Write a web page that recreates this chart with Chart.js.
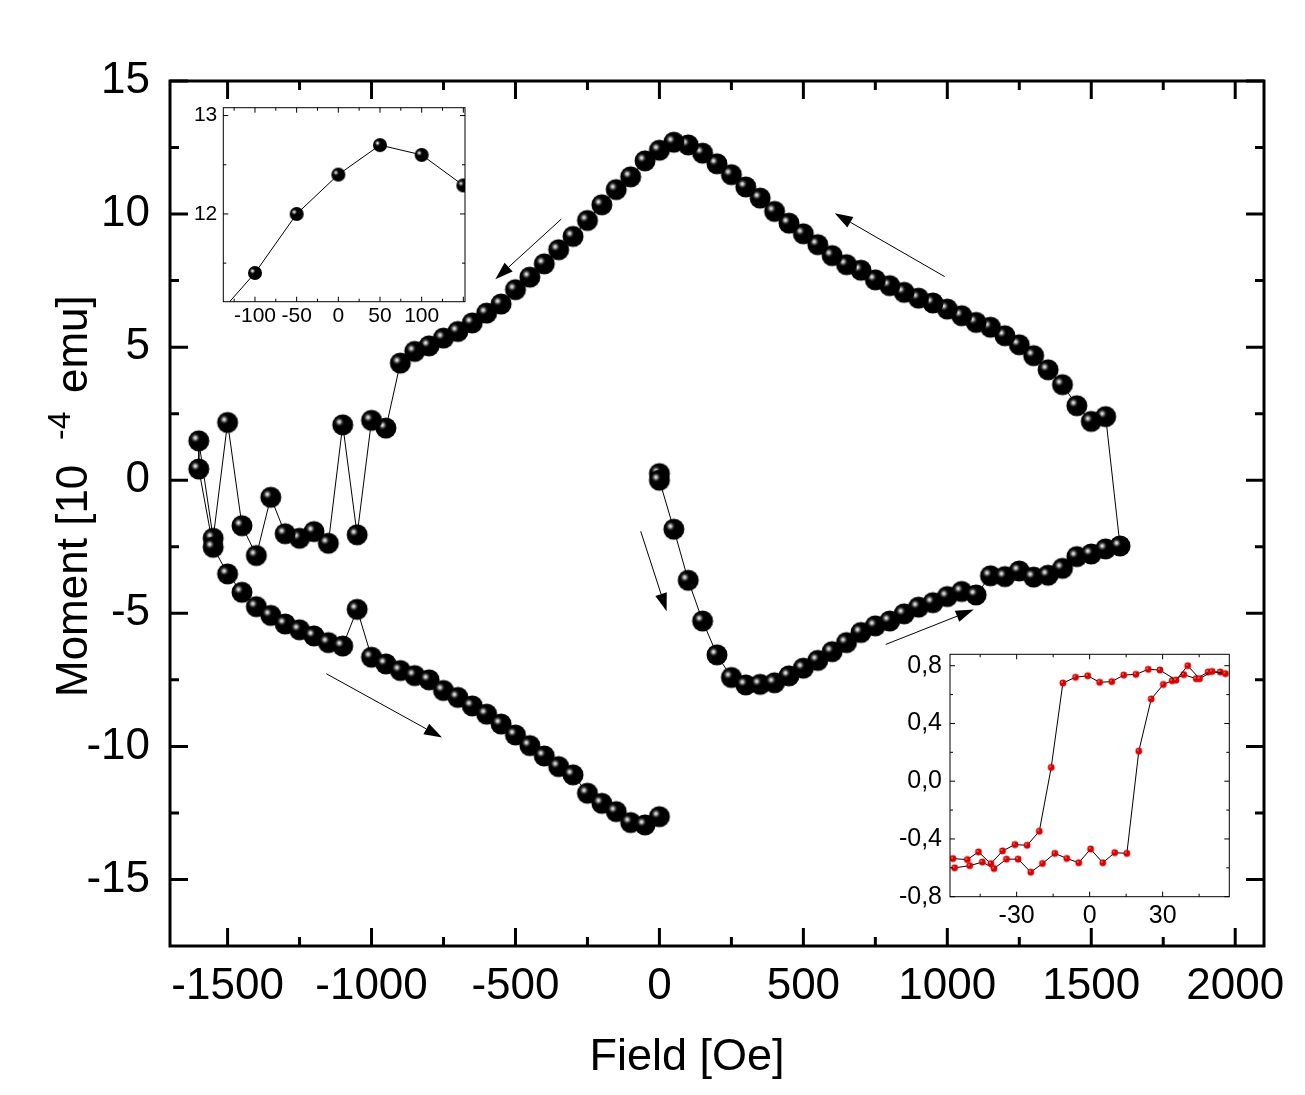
<!DOCTYPE html>
<html>
<head>
<meta charset="utf-8">
<script src="https://cdn.jsdelivr.net/npm/chart.js@4.4.0/dist/chart.umd.min.js"></script>
<style>
  html, body { margin: 0; padding: 0; background: #fff; }
  #wrap { position: relative; width: 1305px; height: 1095px; }
  #wrap canvas { position: absolute; }
</style>
</head>
<body>
<div id="wrap">
  <canvas id="main" width="1305" height="1095" style="left:0;top:0"></canvas>
  <canvas id="insetTop" width="300" height="240" style="left:180px;top:95px"></canvas>
  <canvas id="insetBottom" width="360" height="300" style="left:880px;top:640px"></canvas>
</div>
<script>
// Main loop, in measurement order: virgin curve, upper branch, noisy end, lower branch
const virginField = [0, 0, 50, 100, 150, 200, 250, 300, 350, 400, 450, 500, 550, 600, 650, 700, 750, 800,
  850, 900, 950, 1000, 1050, 1100, 1150, 1200, 1250, 1300, 1350, 1400, 1450, 1500, 1550, 1600];
const virginMoment = [0.25, 0.0, -1.84, -3.76, -5.29, -6.56, -7.41, -7.69, -7.67, -7.61, -7.35, -7.06, -6.77,
  -6.44, -6.10, -5.72, -5.47, -5.29, -5.02, -4.77, -4.60, -4.37, -4.18, -4.31, -3.59, -3.62, -3.41, -3.64,
  -3.57, -3.31, -2.87, -2.77, -2.58, -2.47];

const upperField = [1550, 1500, 1450, 1400, 1350, 1300, 1250, 1200, 1150, 1100, 1050, 1000, 950, 900, 850,
  800, 750, 700, 650, 600, 550, 500, 450, 400, 350, 300, 250, 200, 150, 100, 50, 0, -50, -100, -150, -200,
  -250, -300, -350, -400, -450, -500, -550, -600, -650, -700, -750, -800, -850, -900];
const upperMoment = [2.39, 2.21, 2.80, 3.59, 4.15, 4.68, 5.09, 5.43, 5.75, 5.93, 6.18, 6.43, 6.66, 6.84, 7.06,
  7.31, 7.53, 7.89, 8.10, 8.44, 8.85, 9.26, 9.66, 10.10, 10.60, 11.02, 11.48, 11.89, 12.29, 12.60, 12.70,
  12.40, 12.00, 11.40, 10.92, 10.35, 9.76, 9.16, 8.66, 8.13, 7.63, 7.16, 6.62, 6.28, 5.91, 5.59, 5.34, 5.05,
  4.84, 4.40];

const noisyField = [-950, -1000, -1050, -1100, -1150, -1200, -1250, -1300, -1350, -1400, -1450, -1500,
  -1550, -1600, -1600, -1550];
const noisyMoment = [1.96, 2.25, -2.05, 2.08, -2.37, -1.93, -2.18, -2.01, -0.64, -2.83, -1.71, 2.17,
  -2.18, 1.48, 0.42, -2.52];

const lowerField = [-1500, -1450, -1400, -1350, -1300, -1250, -1200, -1150, -1100, -1050, -1000, -950,
  -900, -850, -800, -750, -700, -650, -600, -550, -500, -450, -400, -350, -300, -250, -200, -150, -100, -50, 0];
const lowerMoment = [-3.52, -4.21, -4.75, -5.08, -5.40, -5.62, -5.85, -6.10, -6.23, -4.85, -6.65, -6.90,
  -7.15, -7.34, -7.50, -7.90, -8.16, -8.48, -8.79, -9.16, -9.57, -9.97, -10.36, -10.76, -11.07, -11.76,
  -12.14, -12.45, -12.86, -12.95, -12.64];

// Bottom-right inset (red), two sweeps
const sweepDownField = [55.8, 50.3, 45.2, 40.3, 35.5, 28.9, 24.1, 19.0, 14.0, 9.1, 4.1, -0.8, -5.8, -11.0,
  -15.8, -20.7, -25.7, -30.7, -35.8, -40.6, -45.7, -50.3, -56.2];
const sweepDownMoment = [0.745, 0.76, 0.71, 0.80, 0.70, 0.77, 0.775, 0.74, 0.735, 0.69, 0.685, 0.73, 0.72,
  0.68, 0.095, -0.347, -0.444, -0.439, -0.483, -0.571, -0.49, -0.543, -0.536];
const sweepUpField = [-55.5, -49.3, -44.1, -39.3, -34.2, -29.4, -24.2, -19.4, -14.3, -9.4, -4.5, 0.4, 5.4,
  10.3, 15.3, 20.2, 25.3, 30.3, 33.9, 38.7, 43.8, 48.7, 53.7];
const sweepUpMoment = [-0.60, -0.585, -0.56, -0.605, -0.54, -0.54, -0.63, -0.57, -0.50, -0.535, -0.565,
  -0.47, -0.565, -0.495, -0.50, 0.208, 0.569, 0.67, 0.696, 0.738, 0.71, 0.756, 0.756];

// Tick labels
const mainXTicks = [-1500, -1000, -500, 0, 500, 1000, 1500, 2000];
const mainYTicks = [-15, -10, -5, 0, 5, 10, 15];
const topXTicks = [-100, -50, 0, 50, 100];
const topYTicks = [12, 13];
const bottomXTicks = [-30, 0, 30];
const bottomYTicks = [-0.8, -0.4, 0.0, 0.4, 0.8];

// Sweep direction arrows [fromField, fromMoment, toField, toMoment]
const arrows = [[-341, 9.81, -570, 7.55], [991, 7.65, 609, 10.03], [-1157, -7.27, -755, -9.67],
  [-65, -1.92, 25, -4.92], [786, -6.17, 1092, -4.86]];

const FONT = "'Liberation Sans', Arial, sans-serif";
const pts = (xs, ys) => xs.map((x, i) => ({ x: x, y: ys[i] }));

const loop = [].concat(pts(virginField, virginMoment), pts(upperField, upperMoment),
  pts(noisyField, noisyMoment), pts(lowerField, lowerMoment));
const zoomed = pts(upperField, upperMoment).filter(p => p.x >= -200 && p.x <= 200);

// shaded sphere marker
function makeBall(r, hx, hy, base, shine) {
  const c = document.createElement('canvas');
  const s = 2 * Math.ceil(r) + 2;
  c.width = c.height = s;
  const g = c.getContext('2d');
  const m = s / 2;
  g.beginPath(); g.arc(m, m, r, 0, Math.PI * 2); g.fillStyle = base; g.fill();
  const grad = g.createRadialGradient(m + hx, m + hy, 0, m + hx, m + hy, r * 0.5);
  grad.addColorStop(0, '#ffffff');
  grad.addColorStop(0.3, shine);
  grad.addColorStop(1, 'rgba(0,0,0,0)');
  g.beginPath(); g.arc(m, m, r, 0, Math.PI * 2); g.fillStyle = grad; g.fill();
  return c;
}
const bigBall = makeBall(10.5, -3.5, -3, '#000', '#a8a8a8');
const smallBall = makeBall(7, -2.5, -2, '#000', '#a8a8a8');
const redBall = makeBall(3.4, -1, -1, '#e00000', '#ff8080');

// frame plus inward ticks on all four sides
const frameTicks = {
  id: 'frameTicks',
  beforeDatasetsDraw(chart, args, o) {
    if (!o.fill) return;
    const a = chart.chartArea;
    chart.ctx.save();
    chart.ctx.fillStyle = '#fff';
    chart.ctx.fillRect(a.left, a.top, a.width, a.height);
    chart.ctx.restore();
  },
  afterDraw(chart, args, o) {
    const { ctx, chartArea: a, scales: { x, y } } = chart;
    ctx.save();
    ctx.strokeStyle = '#000';
    ctx.lineWidth = o.width;
    ctx.beginPath();
    const xs = (vals, len) => vals.forEach(v => {
      const p = x.getPixelForValue(v);
      if (p < a.left || p > a.right) return;
      ctx.moveTo(p, a.bottom); ctx.lineTo(p, a.bottom - len);
      ctx.moveTo(p, a.top); ctx.lineTo(p, a.top + len);
    });
    const ys = (vals, len) => vals.forEach(v => {
      const p = y.getPixelForValue(v);
      if (p < a.top || p > a.bottom) return;
      ctx.moveTo(a.left, p); ctx.lineTo(a.left + len, p);
      ctx.moveTo(a.right, p); ctx.lineTo(a.right - len, p);
    });
    xs(o.xMajor, o.major); xs(o.xMinor, o.minor);
    ys(o.yMajor, o.major); ys(o.yMinor, o.minor);
    ctx.stroke();
    ctx.strokeRect(a.left, a.top, a.width, a.height);
    ctx.restore();
  }
};

const mainExtras = {
  id: 'mainExtras',
  afterDatasetsDraw(chart) {
    const { ctx, scales: { x, y } } = chart;
    ctx.save();
    ctx.strokeStyle = '#000';
    ctx.fillStyle = '#000';
    ctx.lineWidth = 1;
    arrows.forEach(([fx, fy, tx, ty]) => {
      const x0 = x.getPixelForValue(fx), y0 = y.getPixelForValue(fy);
      const x1 = x.getPixelForValue(tx), y1 = y.getPixelForValue(ty);
      const ang = Math.atan2(y1 - y0, x1 - x0);
      const len = 18, half = 6;
      const bx = x1 - len * Math.cos(ang), by = y1 - len * Math.sin(ang);
      ctx.beginPath(); ctx.moveTo(x0, y0); ctx.lineTo(bx, by); ctx.stroke();
      ctx.beginPath();
      ctx.moveTo(x1, y1);
      ctx.lineTo(bx + half * Math.sin(ang), by - half * Math.cos(ang));
      ctx.lineTo(bx - half * Math.sin(ang), by + half * Math.cos(ang));
      ctx.closePath(); ctx.fill();
    });
    ctx.restore();
  },
  afterDraw(chart) {
    const ctx = chart.ctx;
    ctx.save();
    ctx.fillStyle = '#000';
    ctx.font = '45px ' + FONT;
    ctx.textAlign = 'center';
    ctx.textBaseline = 'alphabetic';
    ctx.fillText('Field [Oe]', 687, 1070);
    // rotated y title; the superscript sits after a wide gap, as in the original
    ctx.font = '44px ' + FONT;
    ctx.translate(87, 697);
    ctx.rotate(-Math.PI / 2);
    ctx.textAlign = 'left';
    ctx.fillText('Moment [10', 0, 0);
    ctx.font = '32px ' + FONT;
    ctx.fillText('-4', 257, -17);
    ctx.font = '44px ' + FONT;
    ctx.fillText('emu]', 304, 0);
    ctx.restore();
  }
};

function axis(min, max, ticks, size, pad, fit, fmt) {
  return {
    type: 'linear', min: min, max: max,
    grid: { display: false, drawTicks: false },
    border: { display: false },
    afterBuildTicks: s => { s.ticks = ticks.map(v => ({ value: v })); },
    afterFit: s => {
      fit(s);
      // keep the plot frame exactly where the layout padding puts it
      s.paddingTop = 0; s.paddingBottom = 0; s.paddingLeft = 0; s.paddingRight = 0;
    },
    ticks: { color: '#000', font: { family: FONT, size: size }, padding: pad,
      maxRotation: 0, autoSkip: false, callback: fmt || (v => String(v)) }
  };
}
const common = { responsive: false, animation: false, events: [] };

new Chart(document.getElementById('main'), {
  type: 'scatter',
  data: { datasets: [{ data: loop, showLine: true, borderColor: '#000', borderWidth: 1,
    pointStyle: bigBall, pointRadius: 10.5 }] },
  options: Object.assign({}, common, {
    layout: { padding: { top: 81, right: 41, left: 0, bottom: 0 } },
    plugins: { legend: { display: false }, tooltip: { enabled: false },
      frameTicks: { width: 3, major: 18, minor: 9, xMajor: mainXTicks,
        xMinor: [-1250, -750, -250, 250, 750, 1250, 1750],
        yMajor: mainYTicks, yMinor: [-12.5, -7.5, -2.5, 2.5, 7.5, 12.5] } },
    scales: {
      x: axis(-1700, 2100, mainXTicks, 44, 14, s => { s.height = 149; }),
      y: axis(-17.5, 15, mainYTicks, 44, 20, s => { s.width = 170; })
    }
  }),
  plugins: [frameTicks, mainExtras]
});

new Chart(document.getElementById('insetTop'), {
  type: 'scatter',
  data: { datasets: [{ data: zoomed, showLine: true, borderColor: '#000', borderWidth: 1,
    pointStyle: smallBall, pointRadius: 7 }] },
  options: Object.assign({}, common, {
    layout: { padding: { top: 12.7, right: 15, left: 0, bottom: 0 } },
    plugins: { legend: { display: false }, tooltip: { enabled: false },
      frameTicks: { fill: true, width: 1, major: 5, minor: 3, xMajor: [-100, -50, 0, 50, 100, 150],
        xMinor: [-125, -75, -25, 25, 75, 125], yMajor: topYTicks, yMinor: [11.5, 12.5] } },
    scales: {
      x: axis(-138, 152, topXTicks, 21, 2, s => { s.height = 33.3; }),
      y: axis(11.108, 13.08, topYTicks, 21, 6, s => { s.width = 43.3; })
    }
  }),
  plugins: [frameTicks]
});

const comma = v => v.toFixed(1).replace('.', ',');
new Chart(document.getElementById('insetBottom'), {
  type: 'scatter',
  data: { datasets: [
    { data: pts(sweepDownField, sweepDownMoment), showLine: true, borderColor: '#000', borderWidth: 1,
      pointStyle: redBall, pointRadius: 3.4 },
    { data: pts(sweepUpField, sweepUpMoment), showLine: true, borderColor: '#000', borderWidth: 1,
      pointStyle: redBall, pointRadius: 3.4 }
  ] },
  options: Object.assign({}, common, {
    layout: { padding: { top: 14.3, right: 10.7, left: 0, bottom: 0 } },
    plugins: { legend: { display: false }, tooltip: { enabled: false },
      frameTicks: { fill: true, width: 1, major: 5, minor: 3, xMajor: bottomXTicks,
        xMinor: [-45, -15, 15, 45], yMajor: bottomYTicks, yMinor: [-0.6, -0.2, 0.2, 0.6] } },
    scales: {
      x: axis(-57.4, 57.4, bottomXTicks, 25, 4, s => { s.height = 43.3; }),
      y: axis(-0.8, 0.879, bottomYTicks, 25, 8, s => { s.width = 70; }, comma)
    }
  }),
  plugins: [frameTicks]
});
</script>
</body>
</html>
